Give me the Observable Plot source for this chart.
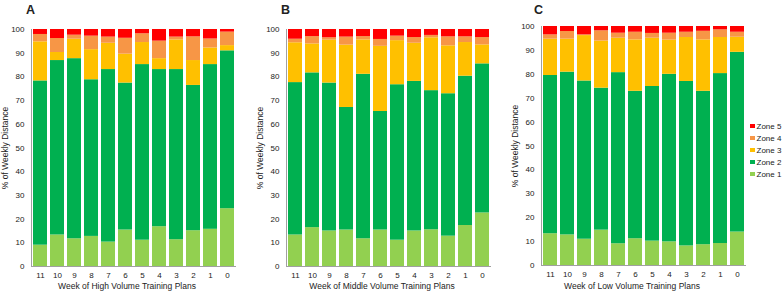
<!DOCTYPE html>
<html>
<head>
<meta charset="utf-8">
<script src="https://cdn.jsdelivr.net/npm/d3@7"></script>
<script src="https://cdn.jsdelivr.net/npm/@observablehq/plot@0.6"></script>
<style>
  html, body { margin: 0; padding: 0; background: #fff; }
  body { font-family: "Liberation Sans", Arial, sans-serif; color: #222; }
  #chart { position: relative; width: 783px; height: 292px; overflow: hidden; }
  .panel { position: absolute; top: 0; }
  .letter { position: absolute; font-weight: bold; font-size: 12.5px; line-height: 1; }
  .ytitle { position: absolute; width: 160px; text-align: center; font-size: 8.5px; line-height: 1;
            transform: translate(-50%, -50%) rotate(-90deg); white-space: nowrap; }
  .xtitle { position: absolute; width: 220px; text-align: center; font-size: 8.5px; line-height: 1;
            transform: translate(-50%, -50%); white-space: nowrap; }
  .legend { position: absolute; left: 750px; top: 120px; font-size: 8px; }
  .legend .row { display: flex; align-items: center; height: 12px; white-space: nowrap; }
  .legend .sw { width: 4.5px; height: 4.5px; margin-right: 2px; }
</style>
</head>
<body>
<div id="chart"></div>
<script>
// ---- data ----
const weeks = ["11", "10", "9", "8", "7", "6", "5", "4", "3", "2", "1", "0"];
const zones = ["Zone 1", "Zone 2", "Zone 3", "Zone 4", "Zone 5"];
const zoneColors = ["#92D050", "#00B050", "#FFC000", "#F79646", "#FF0000"];
const panelLetters = ["A", "B", "C"];
const xTitles = ["Week of High Volume Training Plans", "Week of Middle Volume Training Plans", "Week of Low Volume Training Plans"];
const yTitle = "% of Weekly Distance";
const yTicks = [0, 10, 20, 30, 40, 50, 60, 70, 80, 90, 100];

// High volume (A)
const highZone1 = [9.0, 13.3, 11.7, 12.7, 10.3, 15.4, 11.1, 16.8, 11.3, 15.1, 15.7, 24.4];
const highZone2 = [69.3, 73.6, 76.0, 66.1, 72.8, 62.0, 74.1, 66.3, 71.8, 61.3, 69.5, 66.6];
const highZone3 = [16.5, 3.4, 8.2, 12.7, 11.1, 12.2, 9.3, 4.6, 12.5, 10.5, 7.0, 2.2];
const highZone4 = [3.1, 5.9, 1.7, 5.7, 2.6, 6.7, 3.7, 7.4, 1.2, 10.0, 3.8, 5.7];
const highZone5 = [2.1, 3.8, 2.4, 2.8, 3.2, 3.7, 1.8, 4.9, 3.2, 3.1, 4.0, 1.1];

// Middle volume (B)
const midZone1 = [13.3, 16.4, 15.0, 15.4, 11.7, 15.4, 11.1, 15.0, 15.5, 12.8, 17.3, 22.6];
const midZone2 = [64.3, 65.3, 62.4, 51.7, 69.4, 50.0, 65.6, 63.1, 58.7, 60.1, 63.0, 62.9];
const midZone3 = [16.8, 12.2, 18.1, 26.3, 14.5, 27.5, 18.6, 16.1, 22.3, 20.2, 14.2, 8.0];
const midZone4 = [1.5, 3.1, 1.0, 3.4, 1.4, 2.9, 1.9, 2.4, 1.0, 3.8, 2.4, 3.1];
const midZone5 = [4.1, 3.0, 3.5, 3.2, 3.0, 4.2, 2.8, 3.4, 2.5, 3.1, 3.1, 3.4];

// Low volume (C)
const lowZone1 = [13.3, 12.8, 11.0, 14.8, 9.1, 11.2, 10.2, 9.9, 8.2, 8.7, 9.2, 14.0];
const lowZone2 = [66.2, 68.1, 66.2, 59.4, 71.6, 61.7, 64.7, 70.1, 68.8, 64.2, 71.1, 75.2];
const lowZone3 = [15.2, 13.8, 19.0, 19.7, 14.4, 21.5, 20.2, 14.3, 18.4, 21.5, 15.1, 6.3];
const lowZone4 = [1.8, 3.2, 0.3, 4.3, 2.1, 3.2, 2.0, 2.9, 2.2, 3.6, 3.2, 2.1];
const lowZone5 = [3.5, 2.1, 3.5, 1.8, 2.8, 2.4, 2.9, 2.8, 2.4, 2.0, 1.4, 2.4];

const panelSeries = [
  [highZone1, highZone2, highZone3, highZone4, highZone5],
  [midZone1, midZone2, midZone3, midZone4, midZone5],
  [lowZone1, lowZone2, lowZone3, lowZone4, lowZone5]
];

// ---- layout ----
const panelLeft = [0, 255, 510];
const panelTop = [29, 29, 26];
const panelBottom = [26, 26, 27];
const letterPos = [[26, 4], [281, 4], [534, 4]];
const xTitleX = [127, 382, 632];

const chart = document.getElementById("chart");

panelSeries.forEach((series, p) => {
  const rows = [];
  series.forEach((vals, z) => {
    vals.forEach((v, i) => rows.push({week: weeks[i], zone: zones[z], value: v}));
  });
  const svg = Plot.plot({
    width: 255,
    height: 292,
    marginTop: panelTop[p],
    marginBottom: panelBottom[p],
    marginLeft: 31,
    marginRight: 20,
    style: {fontFamily: '"Liberation Sans", Arial, sans-serif', fontSize: "8px", color: "#222", background: "transparent"},
    x: {domain: weeks, paddingInner: 0.18, paddingOuter: 0.08, label: null},
    y: {domain: [0, 100], label: null},
    color: {domain: zones, range: zoneColors},
    marks: [
      Plot.barY(rows, Plot.stackY({x: "week", y: "value", fill: "zone", order: zones})),
      Plot.axisY({ticks: yTicks, tickSize: 0, tickPadding: 7, label: null}),
      Plot.axisX({tickSize: 0, tickPadding: 6, label: null}),
      Plot.frame({anchor: "left", stroke: "#a0a0a0", strokeWidth: 1}),
      Plot.frame({anchor: "bottom", stroke: "#a0a0a0", strokeWidth: 1})
    ]
  });
  svg.classList.add("panel");
  svg.style.left = panelLeft[p] + "px";
  chart.appendChild(svg);

  const letter = document.createElement("div");
  letter.className = "letter";
  letter.textContent = panelLetters[p];
  letter.style.left = letterPos[p][0] + "px";
  letter.style.top = letterPos[p][1] + "px";
  chart.appendChild(letter);

  const yt = document.createElement("div");
  yt.className = "ytitle";
  yt.textContent = yTitle;
  yt.style.left = (panelLeft[p] + 5) + "px";
  yt.style.top = ((panelTop[p] + 292 - panelBottom[p]) / 2) + "px";
  chart.appendChild(yt);

  const xt = document.createElement("div");
  xt.className = "xtitle";
  xt.textContent = xTitles[p];
  xt.style.left = xTitleX[p] + "px";
  xt.style.top = "285.5px";
  chart.appendChild(xt);
});

// legend (top to bottom: Zone 5 ... Zone 1)
const legend = document.createElement("div");
legend.className = "legend";
zones.map((z, i) => ({z, c: zoneColors[i]})).reverse().forEach(({z, c}) => {
  const row = document.createElement("div");
  row.className = "row";
  const sw = document.createElement("span");
  sw.className = "sw";
  sw.style.background = c;
  const t = document.createElement("span");
  t.textContent = z;
  row.appendChild(sw);
  row.appendChild(t);
  legend.appendChild(row);
});
chart.appendChild(legend);
</script>
</body>
</html>
